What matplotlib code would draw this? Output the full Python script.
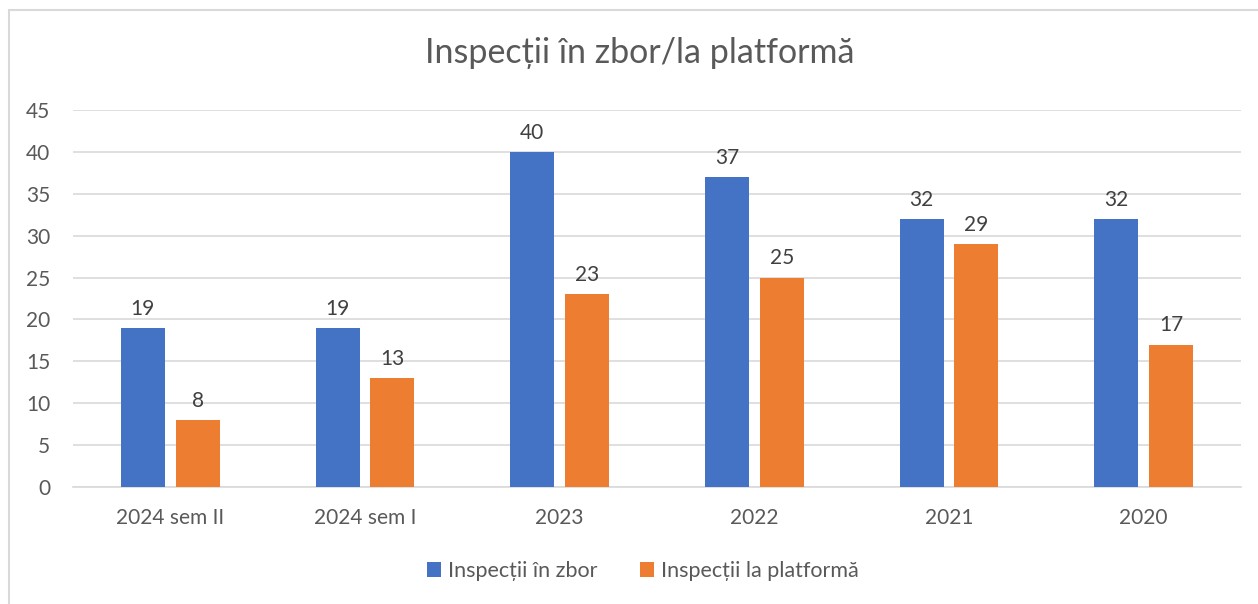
import matplotlib
matplotlib.use("Agg")
import matplotlib.pyplot as plt
from matplotlib.patches import Rectangle
import numpy as np

plt.rcParams['font.family'] = ['Lato', 'DejaVu Sans']

categories = ["2024 sem II", "2024 sem I", "2023", "2022", "2021", "2020"]
zbor = [19, 19, 40, 37, 32, 32]
platforma = [8, 13, 23, 25, 29, 17]
series_names = ["Inspecții în zbor", "Inspecții la platformă"]
title = "Inspecții în zbor/la platformă"

blue = "#4472C4"
orange = "#ED7D31"

fig = plt.figure(figsize=(12.58, 6.04), dpi=100)
fig.patches.append(Rectangle((9/1258, -0.1), 1.2, 1 - 10/604 + 0.1,
                             transform=fig.transFigure, fill=False,
                             edgecolor="#d9d9d9", linewidth=1.5, zorder=0))
ax = fig.add_axes([73/1258, 1 - 487/604, (1241 - 73)/1258, (487 - 110)/604])

x = np.arange(len(categories))
w = 0.226
off = 0.141
b1 = ax.bar(x - off, zbor, w, color=blue, label=series_names[0], zorder=3)
b2 = ax.bar(x + off, platforma, w, color=orange, label=series_names[1], zorder=3)

for bars, vals in ((b1, zbor), (b2, platforma)):
    for r, v in zip(bars, vals):
        ax.text(r.get_x() + r.get_width()/2, v + 1.1, str(v), ha="center", va="bottom",
                fontsize=15, color="#404040")

ax.set_xlim(-0.5, len(categories) - 0.5)
ax.set_ylim(0, 45)
ax.set_yticks(range(0, 46, 5))
ax.grid(axis="y", color="#d9d9d9", linewidth=1.2, zorder=0)
for s in ["top", "right", "left"]:
    ax.spines[s].set_visible(False)
ax.spines["bottom"].set_color("#d9d9d9")
ax.spines["bottom"].set_linewidth(1.2)
ax.tick_params(axis="both", length=0, labelsize=15, colors="#595959")
ax.tick_params(axis="x", pad=15)
ax.tick_params(axis="y", pad=16.5)
ax.set_xticks(x)
ax.set_xticklabels(categories)

fig.text(640/1258, 1 - 53/604, title, ha="center", va="center", fontsize=24.5, color="#595959")

leg = fig.legend(handles=[b1, b2], labels=series_names, loc="center",
                 bbox_to_anchor=(643/1258, 1 - 571/604), ncol=2, frameon=False,
                 fontsize=15.5, handlelength=0.65, handleheight=0.65,
                 handletextpad=0.3, columnspacing=2.0, labelcolor="#595959")

fig.savefig("out.png", dpi=100)
